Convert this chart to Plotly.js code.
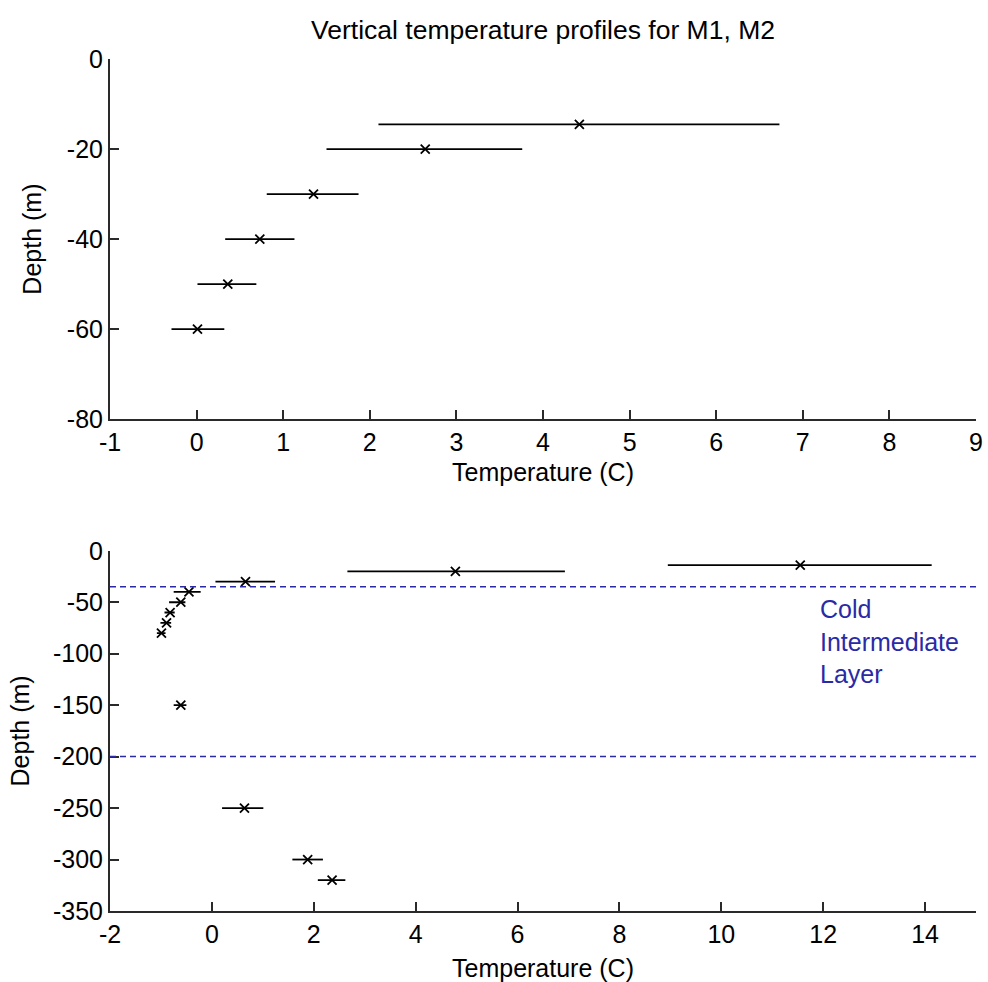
<!DOCTYPE html>
<html>
<head>
<meta charset="utf-8">
<script src="https://cdn.plot.ly/plotly-3.0.1.min.js"></script>
<style>html,body{margin:0;padding:0;background:#fff;}#chart{width:988px;height:982px;}</style>
</head>
<body>
<div id="chart"></div>
<script>
// ---- M1 (top panel) ----
const depthM1 = [-14.5, -20, -30, -40, -50, -60];
const tempM1  = [4.42, 2.64, 1.35, 0.73, 0.36, 0.01];
const lowM1   = [2.10, 1.50, 0.81, 0.33, 0.01, -0.29];
const highM1  = [6.73, 3.76, 1.87, 1.13, 0.69, 0.32];

// ---- M2 (bottom panel) ----
const depthM2 = [-14, -20, -30, -40, -50, -60, -70, -80, -150, -250, -300, -320];
const tempM2  = [11.55, 4.78, 0.66, -0.45, -0.61, -0.82, -0.89, -0.99, -0.61, 0.64, 1.88, 2.36];
const lowM2   = [8.95, 2.66, 0.07, -0.75, -0.84, -0.93, -1.01, -1.08, -0.75, 0.20, 1.58, 2.08];
const highM2  = [14.13, 6.93, 1.24, -0.22, -0.52, -0.73, -0.80, -0.91, -0.50, 1.01, 2.18, 2.62];

// Cold Intermediate Layer bounds (m)
const cilBounds = [-35, -200];
const cilLabel = ["Cold", "Intermediate", "Layer"];

// tick values / labels
const xTicksTop = [-1, 0, 1, 2, 3, 4, 5, 6, 7, 8, 9];
const yTicksTop = [0, -20, -40, -60, -80];
const xTicksBot = [-2, 0, 2, 4, 6, 8, 10, 12, 14];
const yTicksBot = [0, -50, -100, -150, -200, -250, -300, -350];
const lbl = v => String(v); // plain hyphen-minus, as in the reference

const FONT = "Liberation Sans, Arial, sans-serif";
const FS = 25;
const BLUE = "#2a2aa6";

function errTrace(t, d, lo, hi, xa, ya) {
  return {
    type: "scatter", mode: "markers", x: t, y: d, xaxis: xa, yaxis: ya,
    marker: {symbol: "x-thin-open", size: 9, color: "#000", line: {width: 1.8, color: "#000"}},
    error_x: {type: "data", symmetric: false,
      array: hi.map((h, i) => h - t[i]),
      arrayminus: lo.map((l, i) => t[i] - l),
      width: 0, thickness: 1.8, color: "#000"},
    showlegend: false, hoverinfo: "x+y"
  };
}

const data = [
  errTrace(tempM1, depthM1, lowM1, highM1, "x", "y"),
  errTrace(tempM2, depthM2, lowM2, highM2, "x2", "y2")
];

function axis(ticks, extra) {
  return Object.assign({
    showgrid: false, zeroline: false, showline: true, linecolor: "#2a2a2a", linewidth: 2,
    ticks: "inside", ticklen: 9, tickwidth: 2, tickcolor: "#2a2a2a",
    tickfont: {family: FONT, size: FS, color: "#000"},
    tickmode: "array", tickvals: ticks, ticktext: ticks.map(lbl), fixedrange: true
  }, extra);
}

const shapes = cilBounds.map(v => ({
  type: "line", xref: "x2 domain", yref: "y2", x0: 0, x1: 1, y0: v, y1: v,
  line: {color: BLUE, width: 1.5, dash: "6px,4px"}
}));

const layout = {
  width: 988, height: 982,
  paper_bgcolor: "#fff", plot_bgcolor: "#fff",
  margin: {l: 109.5, r: 11.5, t: 59.3, b: 71.3},
  font: {family: FONT, size: FS, color: "#000"},
  title: {text: "Vertical temperature profiles for M1, M2", font: {family: FONT, size: 26.5, color: "#000"},
    x: 0.5, xref: "paper", xanchor: "center", y: 1 - 30/982, yanchor: "middle"},
  xaxis: axis(xTicksTop, {domain: [0, 1], range: [-1, 9], anchor: "y",
    title: {text: "Temperature (C)", standoff: 8, font: {family: FONT, size: FS}}}),
  yaxis: axis(yTicksTop, {domain: [0.5772, 1], range: [-80, 0], anchor: "x",
    title: {text: "Depth (m)", standoff: 18, font: {family: FONT, size: FS}}}),
  xaxis2: axis(xTicksBot, {domain: [0, 1], range: [-2, 15], anchor: "y2",
    title: {text: "Temperature (C)", standoff: 12, font: {family: FONT, size: FS}}}),
  yaxis2: axis(yTicksBot, {domain: [0, 0.4228], range: [-350, 0], anchor: "x2",
    title: {text: "Depth (m)", standoff: 16, font: {family: FONT, size: FS}}}),
  shapes: shapes,
  annotations: [{
    xref: "x2", yref: "y2", x: 11.9, y: -41, xanchor: "left", yanchor: "top",
    text: cilLabel.join("<br>"), align: "left", showarrow: false,
    font: {family: FONT, size: FS, color: BLUE}
  }]
};

Plotly.newPlot("chart", data, layout, {staticPlot: true, displayModeBar: false});
</script>
</body>
</html>
